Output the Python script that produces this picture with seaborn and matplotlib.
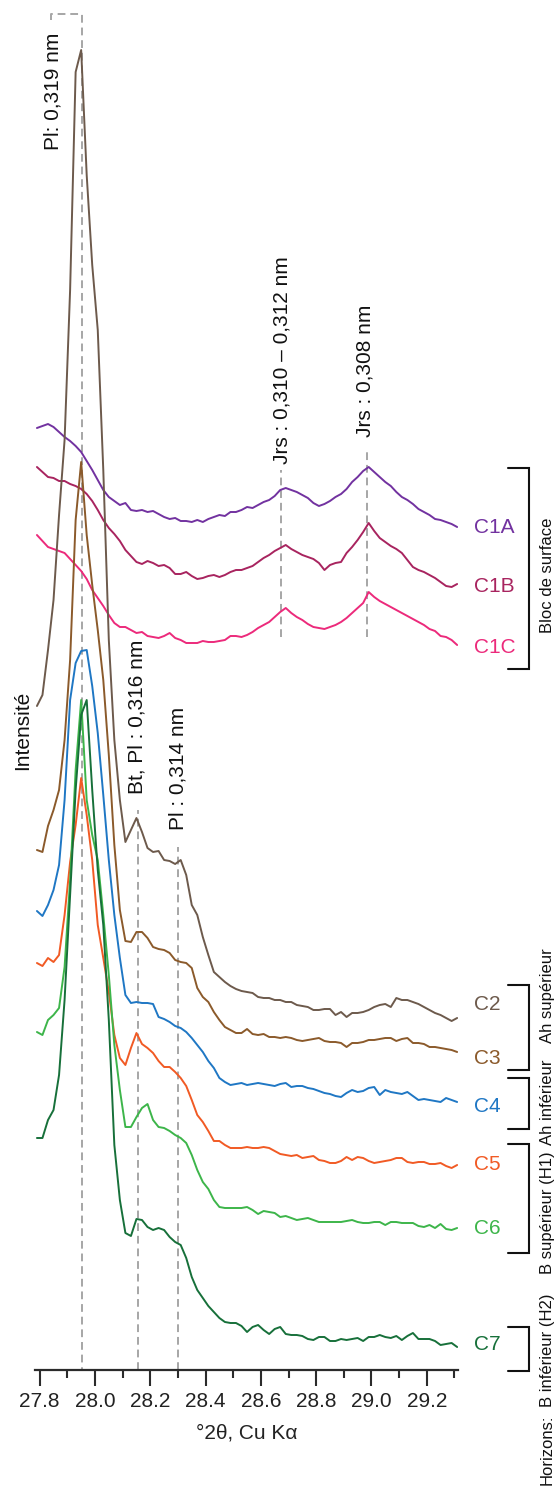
import numpy as np
import pandas as pd
import seaborn as sns
import matplotlib.pyplot as plt

sns.set_theme(style="white")
plt.rcParams['font.family'] = ['Liberation Sans', 'DejaVu Sans']

# scan positions (°2θ) and stacked intensities (arbitrary units, offset per sample)
two_theta = np.round(np.arange(27.79, 29.315, 0.02), 2)

c1a = [942, 944, 946, 943, 938, 933, 929, 924, 918, 909, 900, 890, 880, 873, 869, 865, 867, 860, 859, 860,
       858, 859, 856, 853, 851, 852, 849, 849, 848, 850, 848, 851, 853, 855, 854, 858, 858, 860, 863, 862,
       865, 868, 870, 874, 880, 882, 880, 878, 875, 872, 867, 864, 866, 869, 873, 876, 881, 888, 893, 899,
       903, 898, 893, 888, 884, 878, 873, 870, 866, 861, 858, 855, 851, 850, 848, 846, 843]
c1b = [903, 898, 893, 892, 889, 889, 886, 884, 881, 876, 869, 860, 850, 842, 836, 829, 820, 814, 808, 806,
       809, 807, 804, 805, 802, 796, 796, 798, 794, 791, 792, 794, 795, 793, 795, 798, 800, 800, 802, 804,
       808, 812, 815, 819, 822, 825, 821, 818, 815, 813, 811, 807, 800, 805, 807, 808, 817, 823, 830, 838,
       847, 839, 832, 828, 824, 821, 817, 810, 803, 800, 798, 795, 792, 788, 784, 783, 786]
c1c = [835, 829, 823, 821, 819, 817, 811, 805, 799, 791, 780, 772, 764, 755, 747, 743, 743, 740, 737, 738,
       734, 733, 732, 734, 737, 732, 730, 727, 727, 727, 729, 728, 728, 729, 730, 734, 734, 733, 735, 738,
       742, 745, 748, 753, 758, 762, 757, 753, 750, 746, 743, 742, 741, 743, 745, 748, 752, 757, 762, 767,
       778, 773, 769, 766, 763, 760, 757, 754, 751, 748, 745, 741, 739, 734, 733, 730, 725]
c2 = [664, 675, 720, 770, 855, 930, 1080, 1298, 1320, 1195, 1105, 1040, 900, 730, 630, 570, 528, 540, 552, 538,
      522, 518, 519, 510, 509, 506, 510, 495, 465, 455, 433, 415, 398, 393, 388, 384, 381, 379, 378, 377,
      373, 372, 372, 370, 370, 368, 368, 365, 364, 363, 360, 360, 361, 361, 355, 358, 353, 357, 357, 358,
      360, 363, 365, 366, 363, 372, 370, 370, 368, 366, 363, 360, 357, 355, 352, 349, 352]
c3 = [520, 518, 544, 560, 580, 630, 710, 850, 908, 835, 785, 740, 690, 615, 525, 460, 429, 428, 438, 438,
      432, 423, 421, 420, 417, 410, 408, 407, 402, 382, 373, 368, 358, 350, 343, 340, 337, 337, 341, 336,
      335, 336, 333, 333, 332, 333, 332, 330, 329, 330, 331, 332, 329, 328, 328, 327, 323, 327, 327, 328,
      330, 330, 331, 332, 332, 329, 331, 332, 327, 327, 326, 323, 323, 322, 321, 320, 318]
c4 = [459, 454, 465, 480, 505, 570, 670, 707, 719, 720, 684, 637, 575, 510, 455, 412, 375, 367, 368, 367,
      367, 366, 353, 351, 348, 344, 342, 338, 332, 325, 318, 309, 302, 292, 288, 285, 286, 287, 285, 286,
      287, 286, 285, 284, 286, 287, 283, 284, 284, 282, 281, 279, 277, 276, 274, 273, 277, 280, 278, 279,
      282, 283, 275, 280, 278, 277, 276, 278, 274, 270, 271, 270, 269, 268, 272, 270, 268]
c5 = [407, 404, 412, 408, 415, 455, 508, 545, 592, 555, 510, 445, 412, 378, 335, 312, 305, 322, 337, 326,
      322, 317, 309, 303, 303, 298, 292, 284, 270, 255, 248, 239, 229, 229, 225, 222, 222, 222, 223, 222,
      222, 223, 222, 219, 216, 215, 214, 215, 212, 213, 214, 210, 209, 207, 207, 209, 213, 210, 213, 212,
      209, 207, 208, 209, 210, 212, 212, 208, 207, 208, 208, 206, 206, 207, 204, 202, 205]
c6 = [338, 335, 350, 355, 362, 403, 490, 600, 670, 570, 535, 510, 455, 395, 325, 280, 243, 243, 253, 262,
      266, 250, 243, 242, 239, 235, 232, 227, 215, 200, 188, 181, 170, 163, 162, 162, 162, 162, 163, 160,
      156, 159, 158, 157, 153, 154, 152, 150, 151, 152, 150, 148, 148, 148, 148, 148, 149, 150, 148, 147,
      147, 148, 148, 145, 148, 148, 147, 147, 147, 144, 143, 145, 142, 146, 141, 140, 142]
c7 = [232, 232, 250, 260, 295, 370, 475, 580, 655, 670, 580, 500, 445, 350, 225, 170, 137, 134, 151, 150,
      143, 140, 142, 140, 133, 128, 125, 112, 93, 80, 72, 64, 58, 52, 48, 47, 47, 44, 38, 43,
      45, 40, 36, 41, 43, 36, 35, 35, 34, 31, 30, 33, 33, 29, 29, 31, 30, 31, 32, 29,
      33, 33, 35, 33, 32, 34, 30, 34, 37, 31, 31, 31, 29, 25, 26, 27, 23]

samples = ["C1A", "C1B", "C1C", "C2", "C3", "C4", "C5", "C6", "C7"]
series = [c1a, c1b, c1c, c2, c3, c4, c5, c6, c7]
colors = ["#7232a0", "#a8245f", "#ec2a7b", "#6d5a4c", "#8b5a2b", "#1f77c4", "#f15a24", "#3db54a", "#17703a"]
label_nudge = [0, -2, -2, 13, -6, -5, 0, 0, 2]

# reference peaks: position, label, top of dashed line, label centre
peak_pos = [27.954, 28.157, 28.300, 28.674, 28.984]
peak_text = ["Pl: 0,319 nm", "Bt, Pl : 0,316 nm", "Pl : 0,314 nm",
             "Jrs : 0,310 – 0,312 nm", "Jrs : 0,308 nm"]

# horizon brackets (sample span) and rotated labels
brackets = [(902, 701), (385, 300), (292, 241), (226, 117), (43, -1)]
horizon_text = ["Bloc de surface", "Ah supérieur", "Ah inférieur",
                "B supérieur (H1)", "B inférieur (H2)", "Horizons:"]
horizon_y = [795, 374, 268, 157, 20, -80]

df = pd.concat([pd.DataFrame({"two_theta": two_theta, "intensity": s, "sample": n})
                for n, s in zip(samples, series)], ignore_index=True)

fig = plt.figure(figsize=(5.54, 14.90), dpi=100)
ax = fig.add_axes([35 / 554, 120 / 1490, 422.7 / 554, 1370 / 1490])

sns.lineplot(data=df, x="two_theta", y="intensity", hue="sample", palette=dict(zip(samples, colors)),
             estimator=None, sort=False, legend=False, linewidth=1.4, ax=ax)

ax.set_xlim(27.783, 29.312)
ax.set_ylim(0, 1370)
for s in ["left", "top", "right"]:
    ax.spines[s].set_visible(False)
ax.spines["bottom"].set_linewidth(1.6)
ax.spines["bottom"].set_color("#2b2b2b")
ax.set_yticks([])
ax.set_xticks(np.round(np.arange(27.8, 29.25, 0.2), 1))
ax.set_xticks(np.round(np.arange(27.9, 29.35, 0.2), 1), minor=True)
ax.set_xticklabels([f"{v:.1f}" for v in np.arange(27.8, 29.25, 0.2)])
ax.tick_params(axis="x", which="major", direction="out", length=11.5, width=1.5,
               color="#2b2b2b", labelsize=15, pad=4, labelcolor="#222222", bottom=True)
ax.tick_params(axis="x", which="minor", direction="out", length=5.8, width=1.5,
               color="#2b2b2b", bottom=True)
ax.set_xlabel("°2θ, Cu Kα", fontsize=15, color="#222222", labelpad=9)
ax.set_ylabel("")
ax.grid(False)

dash = dict(color="#a6a6a6", lw=1.4, ls=(0, (4, 2.5)), clip_on=False, zorder=0)
# Pl 0,319: full-height line with small bracket at the top
ax.plot([27.842, 27.842, peak_pos[0], peak_pos[0]], [1350, 1356, 1356, 0], **dash)
ax.plot([peak_pos[1], peak_pos[1]], [0, 560], **dash)
ax.plot([peak_pos[2], peak_pos[2]], [0, 523], **dash)
ax.plot([peak_pos[3], peak_pos[3]], [733, 900], **dash)
ax.plot([peak_pos[4], peak_pos[4]], [733, 920], **dash)

text_xy = [(27.847, 1279), (peak_pos[1] - 0.004, 653), (peak_pos[2], 602),
           (peak_pos[3] + 0.004, 1010), (peak_pos[4] - 0.007, 999)]
for (tx, ty), t in zip(text_xy, peak_text):
    ax.text(tx, ty, t, rotation=90, ha="center", va="center", fontsize=15, color="#111111")

ax.text(27.740, 640, "Intensité", rotation=90, ha="center", va="center",
        fontsize=15, color="#111111", clip_on=False)

for n, s, c, dy in zip(samples, series, colors, label_nudge):
    ax.text(29.372, s[-1] + dy, n, ha="left", va="center", fontsize=15, color=c, clip_on=False)

bx0, bx1 = 29.493, 29.569
for top, bottom in brackets:
    ax.plot([bx0, bx1, bx1, bx0], [top, top, bottom, bottom], color="#111111", lw=1.5,
            clip_on=False, solid_joinstyle="miter")

for t, y in zip(horizon_text, horizon_y):
    ax.text(29.636, y, t, rotation=90, ha="center", va="center", fontsize=12,
            color="#111111", clip_on=False)

fig.savefig("out.png", dpi=100)
